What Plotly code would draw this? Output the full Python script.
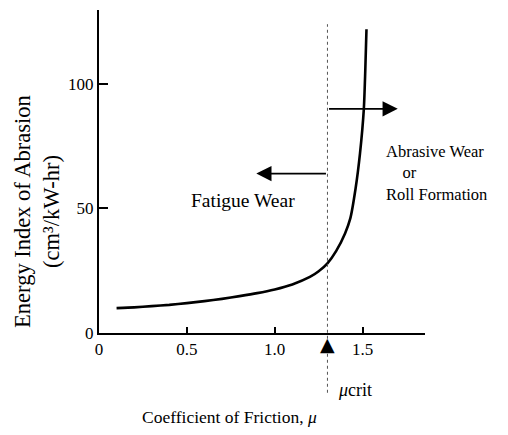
import plotly.graph_objects as go

# Data
mu = [0.10, 0.20, 0.30, 0.40, 0.50, 0.60, 0.70, 0.80, 0.90, 1.00, 1.10, 1.20, 1.25,
      1.30, 1.35, 1.40, 1.43, 1.46, 1.485, 1.507, 1.515, 1.522]
energy = [10.0, 10.3, 10.8, 11.3, 12.0, 12.8, 13.7, 14.8, 16.0, 17.5, 19.5, 22.5, 24.8,
          28.0, 33.0, 40.0, 46.0, 58.0, 72.0, 90.0, 105.0, 122.0]
mu_crit = 1.30
x_ticks = [0, 0.5, 1.0, 1.5]
x_tick_text = ["0", "0.5", "1.0", "1.5"]
y_ticks = [0, 50, 100]
y_tick_text = ["0", "50", "100"]
X_RANGE = [0, 1.855]
Y_RANGE = [0, 129.7]

FONT = "Liberation Serif"

def ypaper(v):
    return (v - Y_RANGE[0]) / (Y_RANGE[1] - Y_RANGE[0])

fig = go.Figure()
fig.add_trace(go.Scatter(x=mu, y=energy, mode="lines",
                         line=dict(color="black", width=2.6, shape="spline", smoothing=0.6),
                         hoverinfo="skip", showlegend=False))

# dotted critical line
fig.add_shape(type="line", xref="x", yref="paper", x0=mu_crit, x1=mu_crit,
              y0=ypaper(-24), y1=ypaper(124), line=dict(color="#555", width=1, dash="dot"))

# critical marker triangle below axis
fig.add_annotation(x=mu_crit, xref="x", yref="paper", y=ypaper(-4.6), text="▲",
                   showarrow=False, font=dict(family="DejaVu Sans", size=19, color="black"),
                   xanchor="center", yanchor="middle")

# arrows
fig.add_annotation(x=1.70, y=90, ax=mu_crit, ay=90, xref="x", yref="y", axref="x", ayref="y",
                   text="", showarrow=True, arrowhead=2, arrowsize=1.9, arrowwidth=1.6,
                   arrowcolor="black", standoff=0, startstandoff=0)
fig.add_annotation(x=0.895, y=64, ax=mu_crit, ay=64, xref="x", yref="y", axref="x", ayref="y",
                   text="", showarrow=True, arrowhead=2, arrowsize=1.9, arrowwidth=1.6,
                   arrowcolor="black", standoff=0, startstandoff=0)

# text labels
def f(size):
    return dict(family=FONT, size=size, color="black")

fig.add_annotation(x=0.818, y=53.4, text="Fatigue Wear", showarrow=False, font=f(19.5),
                   xanchor="center", yanchor="middle")
fig.add_annotation(x=1.623, y=64.3,
                   text="Abrasive Wear<br>&nbsp;&nbsp;&nbsp;&nbsp;or<br>Roll Formation",
                   showarrow=False, font=f(16.5), align="left",
                   xanchor="left", yanchor="middle")
fig.add_annotation(x=1.351, xref="x", yref="paper", y=ypaper(-22.9), text="<i>μ</i>crit",
                   showarrow=False, font=f(18), xanchor="left", yanchor="middle")

# axis titles
fig.add_annotation(xref="paper", yref="paper", x=-0.19, y=0.375,
                   text="Energy Index of Abrasion<br>(cm³/kW-hr)",
                   showarrow=False, textangle=-90, font=f(22.5), xanchor="center", yanchor="middle")
fig.add_annotation(xref="paper", yref="paper", x=0.40, y=-0.26,
                   text="Coefficient of Friction, <i>μ</i>",
                   showarrow=False, font=f(17.5), xanchor="center", yanchor="middle")

fig.update_xaxes(range=X_RANGE, tickvals=x_ticks, ticktext=x_tick_text, ticks="inside",
                 ticklen=6, tickwidth=1.5, tickcolor="black", showline=True, linecolor="black",
                 linewidth=2, showgrid=False, zeroline=False,
                 tickfont=dict(family=FONT, size=17, color="black"))
fig.update_yaxes(range=Y_RANGE, tickvals=y_ticks, ticktext=y_tick_text, ticks="inside",
                 ticklen=9, tickwidth=2, tickcolor="black", showline=True, linecolor="black",
                 linewidth=2, showgrid=False, zeroline=False,
                 tickfont=dict(family=FONT, size=17, color="black"))

fig.update_layout(width=508, height=435, margin=dict(l=99, r=83, t=10, b=102),
                  paper_bgcolor="white", plot_bgcolor="white", showlegend=False)

fig.write_html("out.html")
